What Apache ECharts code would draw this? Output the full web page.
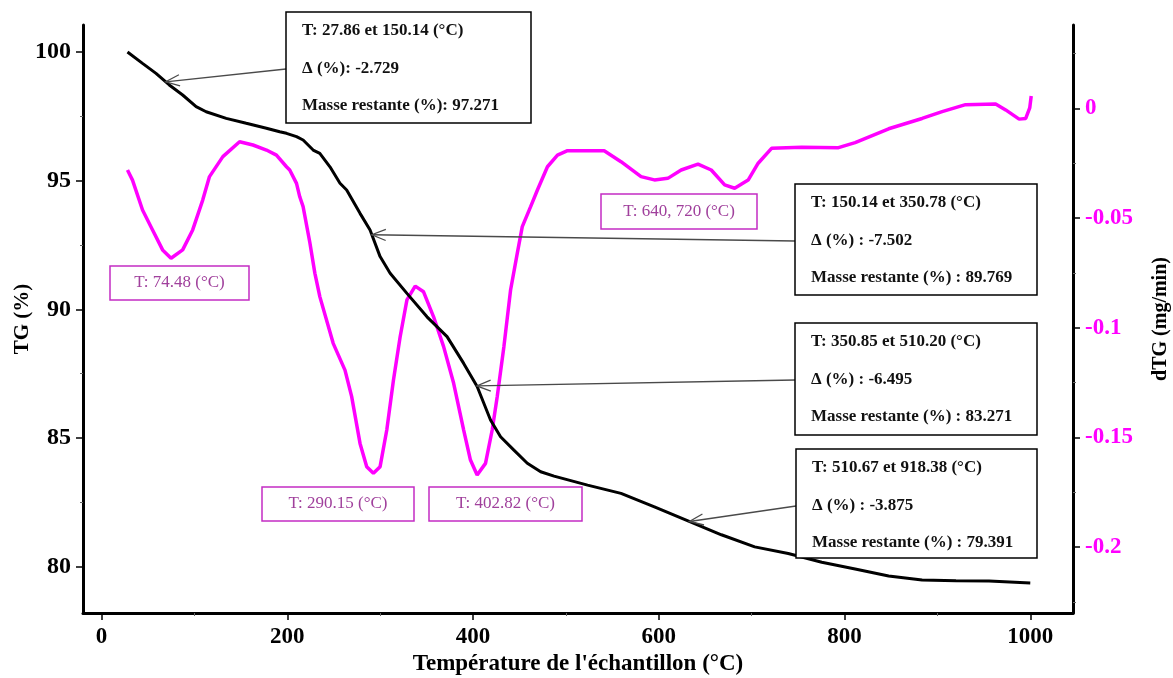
<!DOCTYPE html>
<html>
<head>
<meta charset="utf-8">
<title>TG / dTG</title>
<script src="https://cdn.jsdelivr.net/npm/echarts@6/dist/echarts.min.js"></script>
<style>
html,body{margin:0;padding:0;background:#fff;}
#main{width:1173px;height:678px;}
</style>
</head>
<body>
<div id="main"></div>
<script>
// courbe TG (%)
var tgTemp = [27.9, 44.1, 58.6, 72.9, 87.3, 101.8, 112.6, 134.2, 155.8, 177.5, 191.8, 199.1, 209.9, 217, 227.8, 235,
	245.9, 256.7, 263.9, 278.3, 289.1, 299.9, 310.7, 328.8, 350.4, 372, 389.9, 404.4, 418.8, 429.6, 444, 458.4,
	472.8, 487.2, 523.3, 559.3, 595.3, 631.4, 667.4, 703.3, 739.4, 775.5, 811.4, 847.5, 883.5, 920, 955.6, 1000];
var tgValue = [100.0, 99.56, 99.17, 98.72, 98.33, 97.88, 97.68, 97.42, 97.23, 97.04, 96.90, 96.84, 96.71, 96.58, 96.19, 96.06,
	95.54, 94.90, 94.64, 93.73, 93.08, 92.05, 91.40, 90.62, 89.71, 88.94, 87.90, 87.00, 85.70, 85.05, 84.53, 84.02,
	83.69, 83.52, 83.17, 82.85, 82.32, 81.78, 81.24, 80.77, 80.51, 80.17, 79.91, 79.64, 79.48, 79.45, 79.44, 79.37];

// courbe dTG (mg/min)
var dtgTemp = [27.9, 33.3, 44.1, 54.9, 65.7, 74.8, 87.3, 98.1, 108.9, 116.2, 130.6, 148.6, 163, 177.5, 188.3, 199.1,
	202.6, 209.9, 213.4, 217, 224.2, 229.7, 235, 249.4, 262.1, 269.3, 278.3, 285.5, 292.7, 299.9, 307.1, 314.3,
	321.5, 328.8, 337.7, 346.7, 357.5, 368.3, 379.1, 389.9, 397.2, 404.4, 413.4, 420.6, 426, 433.2, 440.4, 447.6,
	453, 462, 469.3, 480.1, 490.9, 501.7, 541.2, 559.3, 580.9, 595.3, 609.7, 624.1, 642.2, 656.5, 670.9, 681.7,
	696.2, 707, 721.4, 753.8, 793.5, 811.4, 847.5, 883.5, 905.1, 930.3, 962.7, 973.5, 988, 995.1, 999.4, 1001];
var dtgValue = [-0.0281, -0.0327, -0.0463, -0.0554, -0.0645, -0.0683, -0.0645, -0.0554, -0.0418, -0.0311, -0.0220, -0.0152, -0.0167, -0.0190, -0.0213, -0.0266,
	-0.0281, -0.0342, -0.0403, -0.0448, -0.0610, -0.0752, -0.0858, -0.1071, -0.1193, -0.1314, -0.1527, -0.1633, -0.1663, -0.1633, -0.1466, -0.1238,
	-0.1041, -0.0873, -0.0810, -0.0836, -0.0950, -0.1086, -0.1253, -0.1466, -0.1603, -0.1671, -0.1618, -0.1466, -0.1314, -0.1086, -0.0828, -0.0661,
	-0.0539, -0.0448, -0.0372, -0.0266, -0.0213, -0.0193, -0.0193, -0.0243, -0.0311, -0.0326, -0.0319, -0.0281, -0.0254, -0.0281, -0.0349, -0.0364,
	-0.0327, -0.0250, -0.0182, -0.0177, -0.0179, -0.0156, -0.0093, -0.0046, -0.0015, 0.0017, 0.0020, -0.0007, -0.0049, -0.0046, 0.0002, 0.0056];

// graduations
var xTicks = [0, 200, 400, 600, 800, 1000];
var xMinor = [100, 300, 500, 700, 900];
var tgTicks = [80, 85, 90, 95, 100];
var tgMinor = [82.5, 87.5, 92.5, 97.5];
var dtgTicks = [0, -0.05, -0.1, -0.15, -0.2];
var dtgMinor = [0.025, -0.025, -0.075, -0.125, -0.175, -0.225];

// textes des cadres
var stepTexts = [
	['T: 27.86 et 150.14 (°C)', 'Δ (%): -2.729', 'Masse restante (%): 97.271'],
	['T: 150.14 et 350.78 (°C)', 'Δ (%) : -7.502', 'Masse restante (%) : 89.769'],
	['T: 350.85 et 510.20 (°C)', 'Δ (%) : -6.495', 'Masse restante (%) : 83.271'],
	['T: 510.67 et 918.38 (°C)', 'Δ (%) : -3.875', 'Masse restante (%) : 79.391']
];
var stepArrowT = [69, 291, 404, 633];
var peakTexts = ['T: 74.48 (°C)', 'T: 290.15 (°C)', 'T: 402.82 (°C)', 'T: 640, 720 (°C)'];

var FONT = '"Liberation Serif", "Times New Roman", serif';
var xMin = -20, xMax = 1046;
var tgMin = 78.2, tgMax = 101.05;
var dtgMin = -0.23, dtgMax = 0.038;

function pairs(a, b) {
	var out = [];
	for (var i = 0; i < a.length; i++) out.push([a[i], b[i]]);
	return out;
}
function interp(xs, ys, x) {
	for (var i = 1; i < xs.length; i++) {
		if (x <= xs[i]) {
			var f = (x - xs[i - 1]) / (xs[i] - xs[i - 1]);
			return ys[i - 1] + f * (ys[i] - ys[i - 1]);
		}
	}
	return ys[ys.length - 1];
}
function plain(v) {
	return String(v);
}

var chart = echarts.init(document.getElementById('main'));
var option = {
	backgroundColor: '#fff',
	animation: false,
	grid: { left: 83, right: 100, top: 25, bottom: 65, containLabel: false, outerBoundsMode: 'none' },
	xAxis: [
		{
			type: 'value', min: xMin, max: xMax, position: 'bottom',
			name: "Température de l'échantillon (°C)", nameLocation: 'middle', nameGap: 40, nameMoveOverlap: false,
			nameTextStyle: { fontFamily: FONT, fontWeight: 'bold', fontSize: 23, color: '#000' },
			axisLine: { onZero: false, lineStyle: { color: '#000', width: 3 } },
			axisTick: { customValues: xTicks, length: 7, lineStyle: { color: '#000', width: 1.5 } },
			axisLabel: { customValues: xTicks, formatter: plain, margin: 13, fontFamily: FONT, fontWeight: 'bold', fontSize: 23, color: '#000' },
			splitLine: { show: false }
		},
		{
			type: 'value', min: xMin, max: xMax, position: 'bottom',
			axisLine: { show: false, onZero: false },
			axisTick: { customValues: xMinor, length: 3, lineStyle: { color: '#666', width: 1 } },
			axisLabel: { show: false },
			splitLine: { show: false }
		}
	],
	yAxis: [
		{
			type: 'value', min: tgMin, max: tgMax, position: 'left',
			name: 'TG (%)', nameLocation: 'middle', nameGap: 50, nameRotate: 90, nameMoveOverlap: false,
			nameTextStyle: { fontFamily: FONT, fontWeight: 'bold', fontSize: 21, color: '#000' },
			axisLine: { show: true, onZero: false, lineStyle: { color: '#000', width: 3 } },
			axisTick: { show: true, customValues: tgTicks, length: 7, lineStyle: { color: '#000', width: 1.5 } },
			axisLabel: { customValues: tgTicks, formatter: plain, margin: 12, fontFamily: FONT, fontWeight: 'bold', fontSize: 24, color: '#000' },
			splitLine: { show: false }
		},
		{
			type: 'value', min: dtgMin, max: dtgMax, position: 'right',
			name: 'dTG (mg/min)', nameLocation: 'middle', nameGap: 78, nameRotate: 90, nameMoveOverlap: false,
			nameTextStyle: { fontFamily: FONT, fontWeight: 'bold', fontSize: 20, color: '#000' },
			axisLine: { show: true, onZero: false, lineStyle: { color: '#000', width: 3 } },
			axisTick: { show: true, customValues: dtgTicks, length: 7, lineStyle: { color: '#000', width: 1.5 } },
			axisLabel: { customValues: dtgTicks, formatter: plain, margin: 12, fontFamily: FONT, fontWeight: 'bold', fontSize: 23, color: '#ff00ff' },
			splitLine: { show: false }
		},
		{
			type: 'value', min: tgMin, max: tgMax, position: 'left',
			axisLine: { show: false, onZero: false },
			axisTick: { show: true, customValues: tgMinor, length: 3, lineStyle: { color: '#666', width: 1 } },
			axisLabel: { show: false },
			splitLine: { show: false }
		},
		{
			type: 'value', min: dtgMin, max: dtgMax, position: 'right',
			axisLine: { show: false, onZero: false },
			axisTick: { show: true, customValues: dtgMinor, length: 3, lineStyle: { color: '#666', width: 1 } },
			axisLabel: { show: false },
			splitLine: { show: false }
		}
	],
	series: [
		{
			name: 'TG', type: 'line', xAxisIndex: 0, yAxisIndex: 0,
			data: pairs(tgTemp, tgValue), showSymbol: false, symbol: 'none',
			lineStyle: { color: '#000', width: 3 }, z: 3
		},
		{
			name: 'dTG', type: 'line', xAxisIndex: 0, yAxisIndex: 1,
			data: pairs(dtgTemp, dtgValue), showSymbol: false, symbol: 'none',
			lineStyle: { color: '#ff00ff', width: 3.5 }, z: 2
		}
	]
};
chart.setOption(option);

// cadres et flèches
var stepBoxes = [[286, 12, 245, 111], [795, 184, 242, 111], [795, 323, 242, 112], [796, 449, 241, 109]];
var lineOffsets = [19, 57, 94];
var peakBoxes = [[110, 266, 139, 34], [262, 487, 152, 34], [429, 487, 153, 34], [601, 194, 156, 35]];
var els = [];

for (var i = 0; i < stepBoxes.length; i++) {
	var b = stepBoxes[i];
	var tip = chart.convertToPixel({ xAxisIndex: 0, yAxisIndex: 0 }, [stepArrowT[i], interp(tgTemp, tgValue, stepArrowT[i])]);
	var sx = b[0], sy = b[1] + 57;
	var ang = Math.atan2(sy - tip[1], sx - tip[0]);
	var hl = 15, hw = 0.38;
	els.push({
		type: 'polyline', z: 100,
		shape: { points: [[sx, sy], tip] },
		style: { stroke: '#4a4a4a', lineWidth: 1.3, fill: null }
	});
	els.push({
		type: 'polyline', z: 100,
		shape: { points: [
			[tip[0] + hl * Math.cos(ang + hw), tip[1] + hl * Math.sin(ang + hw)],
			tip,
			[tip[0] + hl * Math.cos(ang - hw), tip[1] + hl * Math.sin(ang - hw)]
		] },
		style: { stroke: '#4a4a4a', lineWidth: 1.3, fill: null }
	});
	els.push({
		type: 'rect', z: 101,
		shape: { x: b[0], y: b[1], width: b[2], height: b[3] },
		style: { fill: '#fff', stroke: '#000', lineWidth: 1.5 }
	});
	for (var k = 0; k < 3; k++) {
		els.push({
			type: 'text', z: 102, x: b[0] + 16, y: b[1] + lineOffsets[k],
			style: { text: stepTexts[i][k], font: 'bold 17px ' + FONT, fill: '#111', textVerticalAlign: 'middle' }
		});
	}
}

for (var j = 0; j < peakBoxes.length; j++) {
	var p = peakBoxes[j];
	els.push({
		type: 'rect', z: 101,
		shape: { x: p[0], y: p[1], width: p[2], height: p[3] },
		style: { fill: '#fff', stroke: '#c42cc4', lineWidth: 1.5 }
	});
	els.push({
		type: 'text', z: 102, x: p[0] + p[2] / 2, y: p[1] + p[3] / 2,
		style: { text: peakTexts[j], font: '17px ' + FONT, fill: '#a0409c', textAlign: 'center', textVerticalAlign: 'middle' }
	});
}

chart.setOption({ graphic: { elements: els } });
</script>
</body>
</html>
